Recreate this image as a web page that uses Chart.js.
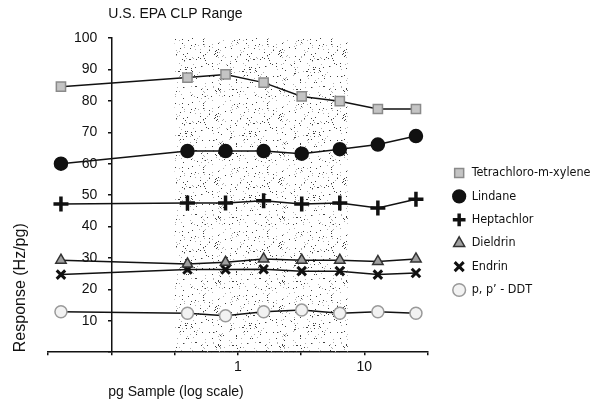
<!DOCTYPE html>
<html lang="en">
<head>
<meta charset="UTF-8" />
<title>U.S. EPA CLP Range</title>
<script src="https://cdn.jsdelivr.net/npm/chart.js"></script>
<style>
  html, body { margin: 0; padding: 0; background: #fff; overflow: hidden; }
  #wrap { width: 602px; height: 402px; position: relative; }
</style>
</head>
<body>
<div id="wrap"><canvas id="chart"></canvas></div>
<script>
// pg sample amounts (x, log scale)
const samples = [0.04, 0.4, 0.8, 1.6, 3.2, 6.4, 12.8, 25.6];

// response in Hz/pg
const tetrachloro = [84.5, 87.4, 88.4, 85.8, 81.4, 79.9, 77.4, 77.4];
const lindane     = [60.0, 64.0, 64.0, 64.0, 63.2, 64.6, 66.1, 68.8];
const heptachlor  = [47.2, 47.5, 47.5, 48.2, 47.2, 47.5, 45.9, 48.7];
const dieldrin    = [29.3, 28.1, 28.6, 29.7, 29.3, 29.3, 28.9, 29.7];
const endrin      = [24.7, 26.3, 26.3, 26.4, 25.8, 25.8, 24.7, 25.2];
const ddt         = [12.9, 12.4, 11.6, 12.9, 13.4, 12.4, 12.9, 12.4];

const xTicks = [0.0316, 0.1, 0.316, 1, 3.16, 10, 31.6];
const xTickLabels = ['', '', '', '1', '', '10', ''];
const clpRange = [0.316, 7.4];   // shaded band

const chartTitle = 'U.S. EPA CLP Range';
const xTitle = 'pg Sample (log scale)';
const yTitle = 'Response (Hz/pg)';

const INK = '#111';
const NARROW = '"Liberation Sans Narrow", "Arial Narrow", "DejaVu Sans Condensed", sans-serif';

Chart.defaults.font.family = '"Liberation Sans", Arial, sans-serif';
Chart.defaults.font.size = 14;
Chart.defaults.color = INK;

// stippled fill for the CLP range
function stipple(ctx) {
  const c = document.createElement('canvas');
  c.width = 64; c.height = 64;
  const g = c.getContext('2d');
  let s = 11;
  for (let i = 0; i < 230; i++) {
    s = (s * 16807) % 2147483647;
    const px = s % 64;
    s = (s * 16807) % 2147483647;
    const py = s % 64;
    g.fillStyle = i % 2 ? '#b0b0b0' : '#404040';
    g.fillRect(px, py, 1, 1);
  }
  return ctx.createPattern(c, 'repeat');
}

const canvas = document.getElementById('chart');
const pattern = stipple(canvas.getContext('2d'));

const clpShade = {
  id: 'clpShade',
  beforeDatasetsDraw(chart) {
    const {ctx, scales: {x, y}} = chart;
    const left = x.getPixelForValue(clpRange[0]);
    const right = x.getPixelForValue(clpRange[1]);
    const top = y.getPixelForValue(100);
    const bottom = y.getPixelForValue(0);
    ctx.save();
    ctx.fillStyle = pattern;
    ctx.fillRect(left, top, right - left, bottom - top);
    ctx.restore();
  }
};

// chart title and x title start at the y axis line, not at the chart edge
const looseTitles = {
  id: 'looseTitles',
  afterDraw(chart) {
    const {ctx, scales: {x}} = chart;
    const x0 = x.getPixelForValue(0.1) - 3;
    ctx.save();
    ctx.fillStyle = INK;
    ctx.font = '14px "Liberation Sans", Arial, sans-serif';
    ctx.textBaseline = 'middle';
    ctx.fillText(chartTitle, x0, 14);
    ctx.fillText(xTitle, x0, 392);
    ctx.restore();
  }
};

function series(label, values, style) {
  return Object.assign({
    label: label,
    data: samples.map((v, i) => ({x: v, y: values[i]})),
    yAxisID: 'y',
    borderColor: INK,
    borderWidth: 1.5,
    pointRadius: 6,
    pointBorderWidth: 1.5,
    tension: 0,
    fill: false
  }, style);
}

new Chart(canvas, {
  type: 'line',
  data: {
    datasets: [
      series('Tetrachloro-m-xylene', tetrachloro, {pointStyle: 'rect', pointBackgroundColor: '#c4c4c4', pointBorderColor: '#8a8a8a', pointRadius: 6.5}),
      series('Lindane', lindane, {pointStyle: 'circle', pointBackgroundColor: INK, pointBorderColor: INK, pointRadius: 6.5}),
      series('Heptachlor', heptachlor, {pointStyle: 'cross', pointBackgroundColor: INK, pointBorderColor: INK, pointRadius: 7.5, pointBorderWidth: 3.5}),
      series('Dieldrin', dieldrin, {pointStyle: 'triangle', pointBackgroundColor: '#a0a0a0', pointBorderColor: '#333', pointRadius: 6}),
      series('Endrin', endrin, {pointStyle: 'crossRot', pointBackgroundColor: INK, pointBorderColor: INK, pointRadius: 6, pointBorderWidth: 3}),
      series('p, p\u2019 - DDT', ddt, {pointStyle: 'circle', pointBackgroundColor: '#f2f2f2', pointBorderColor: '#9a9a9a', pointRadius: 6})
    ]
  },
  options: {
    responsive: true,
    maintainAspectRatio: false,
    animation: false,
    clip: false,
    layout: { padding: {left: 7, top: 38, right: 1.5, bottom: 22} },
    plugins: {
      tooltip: { enabled: false },
      legend: {
        position: 'right',
        align: 'start',
        maxWidth: 260,
        title: { display: true, text: ' ', font: {size: 10}, padding: {top: 105.85, bottom: 0} },
        labels: {
          usePointStyle: true,
          boxHeight: 9,
          padding: 10.9,
          color: INK,
          font: {size: 12.5, family: NARROW}
        }
      }
    },
    scales: {
      x: {
        type: 'logarithmic',
        min: xTicks[0],
        max: xTicks[xTicks.length - 1],
        afterBuildTicks: s => { s.ticks = xTicks.map(v => ({value: v})); },
        ticks: { autoSkip: false, maxRotation: 0, padding: 4, callback: (v, i) => xTickLabels[i] },
        grid: { drawOnChartArea: false, tickLength: 3, color: INK, lineWidth: 1.5 },
        border: { color: INK, width: 1.5 }
      },
      y: {
        position: { x: 0.1 },
        min: 0,
        max: 100,
        // labels of an axis placed at a value get no padding, the em space gives the gap
        ticks: { stepSize: 10, callback: v => v === 0 ? '' : v + '\u2003' },
        grid: { drawOnChartArea: false, tickLength: 3, color: INK, lineWidth: 1.5 },
        border: { color: INK, width: 1.5 }
      },
      yTitle: {
        axis: 'y',
        position: 'left',
        min: 0,
        max: 100,
        ticks: { display: false },
        grid: { display: false, drawTicks: false },
        border: { display: false },
        title: { display: true, text: yTitle, align: 'start', color: INK, font: {size: 16}, padding: {top: 4, bottom: 17.8} }
      },
      gap: {
        axis: 'y',
        position: 'right',
        min: 0,
        max: 1,
        ticks: { display: false },
        grid: { display: false, drawTicks: false },
        border: { display: false },
        afterFit: s => { s.width = 14.5; }
      }
    }
  },
  plugins: [clpShade, looseTitles]
});
</script>
</body>
</html>
